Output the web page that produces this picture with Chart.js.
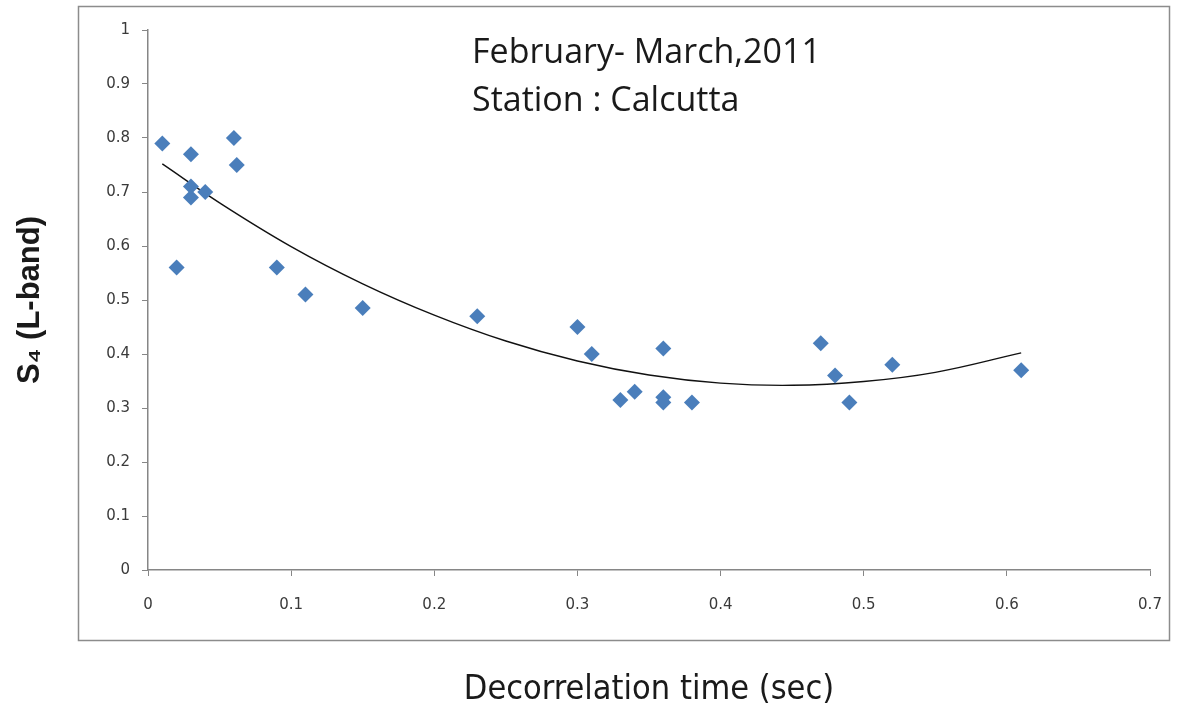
<!DOCTYPE html>
<html>
<head>
<meta charset="utf-8">
<script src="https://cdn.jsdelivr.net/npm/chart.js@4.4.1/dist/chart.umd.min.js"></script>
<style>
  html, body { margin: 0; padding: 0; background: #fff; }
  #wrap { position: relative; width: 1183px; height: 709px; }
</style>
</head>
<body>
<div id="wrap"><canvas id="s4Chart" width="1183" height="709"></canvas></div>
<script>
// observed points (decorrelation time, S4)
const decorrTime = [0.01, 0.02, 0.03, 0.03, 0.03, 0.04, 0.06, 0.062, 0.09, 0.11, 0.15, 0.23,
                    0.30, 0.31, 0.33, 0.34, 0.36, 0.36, 0.36, 0.38, 0.47, 0.48, 0.49, 0.52, 0.61];
const s4Values   = [0.79, 0.56, 0.77, 0.71, 0.69, 0.70, 0.80, 0.75, 0.56, 0.51, 0.485, 0.47,
                    0.45, 0.40, 0.315, 0.33, 0.41, 0.32, 0.31, 0.31, 0.42, 0.36, 0.31, 0.38, 0.37];

// trend curve
const fitTime = [0.01, 0.05, 0.10, 0.15, 0.20, 0.25, 0.30, 0.35, 0.40, 0.45, 0.50, 0.55, 0.61];
const fitS4   = [0.752, 0.680, 0.599, 0.530, 0.472, 0.424, 0.387, 0.361, 0.346, 0.342, 0.349, 0.366, 0.402];

const xTicks = [0, 0.1, 0.2, 0.3, 0.4, 0.5, 0.6, 0.7];
const yTicks = [0, 0.1, 0.2, 0.3, 0.4, 0.5, 0.6, 0.7, 0.8, 0.9, 1];

const noteLines = ['February- March,2011', 'Station : Calcutta'];

const points = decorrTime.map((t, i) => ({ x: t, y: s4Values[i] }));
const curve = fitTime.map((t, i) => ({ x: t, y: fitS4[i] }));

const frame = {
    id: 'frame',
    beforeDraw(chart) {
        const c = chart.ctx;
        c.save();
        c.fillStyle = '#fff';
        c.fillRect(0, 0, chart.width, chart.height);
        c.strokeStyle = '#8c8c8c';
        c.lineWidth = 1.5;
        c.strokeRect(78.5, 6.5, 1091, 634);
        c.restore();
    },
    afterDraw(chart) {
        const c = chart.ctx;
        c.save();
        c.fillStyle = '#1a1a1a';
        c.font = '34px "Open Sans", sans-serif';
        c.textBaseline = 'alphabetic';
        noteLines.forEach((line, i) => c.fillText(line, 472, 63 + i * 48));
        c.restore();
    }
};

const tickFont = { family: '"DejaVu Sans", sans-serif', size: 15 };

new Chart(document.getElementById('s4Chart').getContext('2d'), {
    type: 'scatter',
    data: {
        datasets: [{
            label: 'S4',
            data: points,
            pointStyle: 'rectRot',
            pointRadius: 8,
            backgroundColor: '#4a7ebb',
            borderColor: '#4a7ebb',
            borderWidth: 0,
            order: 1
        }, {
            label: 'Fit',
            data: curve,
            showLine: true,
            pointRadius: 0,
            borderColor: '#111',
            borderWidth: 1.4,
            tension: 0.4,
            fill: false,
            order: 2
        }]
    },
    options: {
        responsive: false,
        animation: false,
        layout: { padding: { top: 30, right: 33, left: 0, bottom: 0 } },
        plugins: {
            legend: { display: false },
            tooltip: { enabled: false }
        },
        scales: {
            x: {
                type: 'linear',
                min: 0,
                max: 0.7,
                afterFit: s => { s.height = 139; },
                afterBuildTicks: s => { s.ticks = xTicks.map(v => ({ value: v })); },
                ticks: {
                    font: tickFont,
                    color: '#3a3a3a',
                    padding: 20,
                    maxRotation: 0,
                    callback: v => String(Math.round(v * 10) / 10)
                },
                grid: { drawOnChartArea: false, drawTicks: true, tickLength: 6, color: '#868686' },
                border: { display: true, color: '#868686', width: 1.5 },
                title: {
                    display: true,
                    text: 'Decorrelation time (sec)',
                    color: '#1a1a1a',
                    font: { family: '"Liberation Sans Narrow", "DejaVu Sans Condensed", sans-serif', size: 34, lineHeight: 1 },
                    padding: { top: 0, bottom: 2 }
                }
            },
            y: {
                type: 'linear',
                min: 0,
                max: 1,
                afterFit: s => { s.width = 148; },
                afterBuildTicks: s => { s.ticks = yTicks.map(v => ({ value: v })); },
                ticks: {
                    font: tickFont,
                    color: '#3a3a3a',
                    padding: 12,
                    callback: v => String(Math.round(v * 10) / 10)
                },
                grid: { drawOnChartArea: false, drawTicks: true, tickLength: 6, color: '#868686' },
                border: { display: true, color: '#868686', width: 1.5 },
                title: {
                    display: true,
                    text: 'S₄ (L-band)',
                    color: '#1a1a1a',
                    font: { family: '"Liberation Sans", Arial, sans-serif', size: 31, weight: 'bold', lineHeight: 1 },
                    padding: { top: 15, bottom: 0 }
                }
            }
        }
    },
    plugins: [frame]
});
</script>
</body>
</html>
